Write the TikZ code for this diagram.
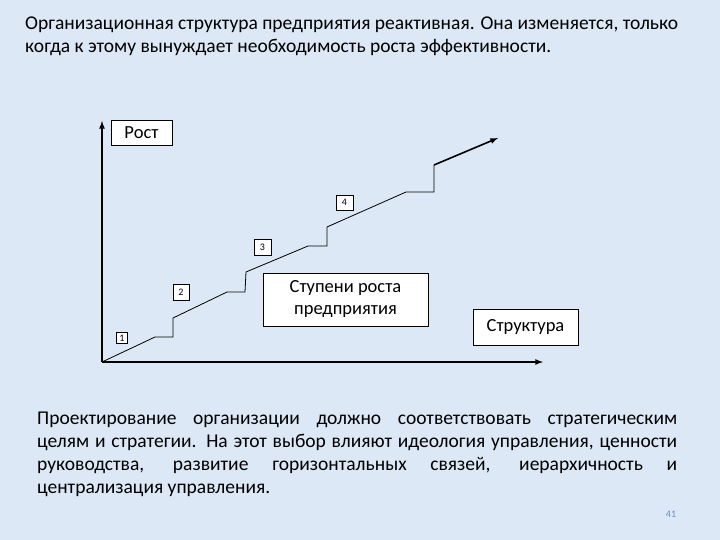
\documentclass[tikz,border=0pt]{standalone}
\usepackage{fontspec}
\setmainfont{Carlito}
\begin{document}
\begin{tikzpicture}[x=1pt,y=-1pt,
 lbl/.style={draw=black,fill=white,inner sep=0pt,font=\fontsize{18.5}{22}\selectfont,align=center},
 num/.style={draw=black,fill=white,inner sep=0pt,font=\fontsize{10}{10}\selectfont},
 ax/.style={line width=1.6pt,-latex},
 txt/.style={font=\fontsize{19.5}{23}\selectfont,anchor=north west,inner sep=0pt}]
\fill[fill={rgb,255:red,220;green,232;blue,245}] (0,0) rectangle (720,540);
\useasboundingbox (0,0) rectangle (720,540);
\node[txt,align=left] (title) at (25,17) {Организационная структура предприятия реактивная. Она изменяется, только\\когда к этому вынуждает необходимость роста эффективности.};
\coordinate (o) at (102,362);
\coordinate (yt) at (102,121);
\coordinate (xt) at (543,362);
\draw[ax] (o) -- (yt);
\draw[ax] (o) -- (xt);
\coordinate (s0) at (434,165);
\coordinate (s1) at (498,138);
\draw[line width=0.8pt] (o) -- (155,337) -- (173,337) -- (173,318) -- (227,292) -- (245,292) -- (246,272) -- (308,246) -- (327,246) -- (327,227) -- (406,192) -- (434,192) -- (s0);
\draw[line width=1.6pt,-latex] (s0) -- (s1);
\node[lbl,minimum width=61pt,minimum height=25pt] (rost) at (141.5,132.5) {Рост};
\node[num,minimum width=11pt,minimum height=11pt] (n1) at (122,338) {1};
\node[num,minimum width=16pt,minimum height=16pt] (n2) at (181,292.5) {2};
\node[num,minimum width=17pt,minimum height=16pt] (n3) at (262.5,247) {3};
\node[num,minimum width=17pt,minimum height=15pt] (n4) at (344.5,202.5) {4};
\node[lbl,minimum width=165pt,minimum height=53pt] (st) at (345.5,299.5) {Ступени роста\\предприятия};
\node[lbl,minimum width=105pt,minimum height=36pt] (str) at (525.5,327) {Структура};
\node[txt,text width=640pt,align=justify] (para) at (37,412) {Проектирование организации должно соответствовать стратегическим\linebreak целям и стратегии. На этот выбор влияют идеология управления, ценности\linebreak руководства, развитие горизонтальных связей, иерархичность и\linebreak централизация управления.};
\node[font=\fontsize{10}{12}\selectfont,text={rgb,255:red,110;green,140;blue,190}] (pg) at (671,514) {41};
\end{tikzpicture}
\end{document}
